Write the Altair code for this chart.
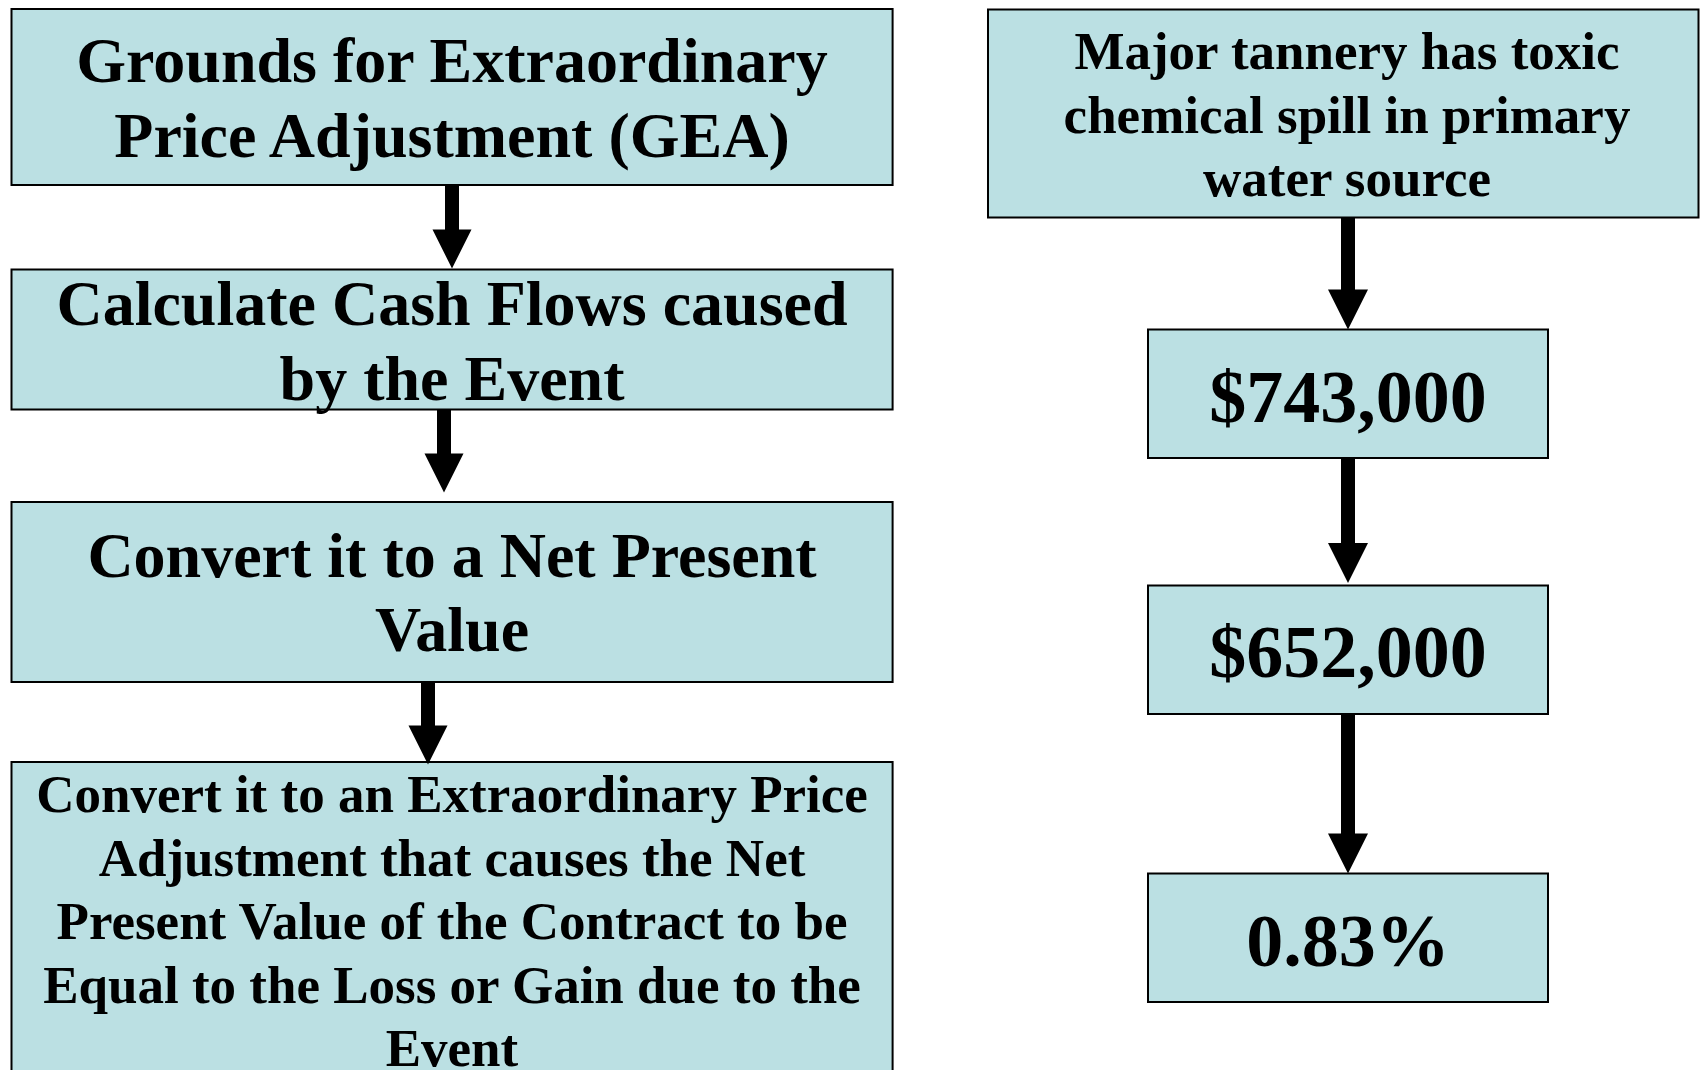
import altair as alt
import pandas as pd

# ---- content ----
left_steps = [
    "Grounds for Extraordinary\nPrice Adjustment (GEA)",
    "Calculate Cash Flows caused\nby the Event",
    "Convert it to a Net Present\nValue",
    "Convert it to an Extraordinary Price\nAdjustment that causes the Net\nPresent Value of the Contract to be\nEqual to the Loss or Gain due to the\nEvent",
]
right_steps = [
    "Major tannery has toxic\nchemical spill in primary\nwater source",
    "$743,000",
    "$652,000",
    "0.83%",
]

# ---- layout (page pixel geometry) ----
box_x1 = [11.5, 11.5, 11.5, 11.5, 988, 1148, 1148, 1148]
box_x2 = [892.6, 892.6, 892.6, 892.6, 1698.5, 1548, 1548, 1548]
box_y1 = [9, 269.5, 502, 762, 9.6, 329.5, 585.6, 873.5]
box_y2 = [185, 409.5, 682, 1110, 217.6, 458, 714, 1002]
font_px = [64, 64, 64, 53, 53, 74, 74, 74]
first_base = [81.7, 325, 577, 812, 68.9, 421.8, 677.3, 965.5]
line_gap = [75, 75, 74, 63.5, 63.7, 0, 0, 0]
text_cx = [452, 452, 452, 452, 1347, 1348, 1348, 1348]

arrow_x = [452, 444, 428, 1348, 1348, 1348]
arrow_top = [185, 409.5, 682, 217.6, 458, 714]
arrow_head = [249, 473, 745, 309.5, 563, 853.5]
head_px = [39, 39, 39, 40, 40, 40]

labels = left_steps + right_steps

boxes = pd.DataFrame({"x1": box_x1, "x2": box_x2, "y1": box_y1, "y2": box_y2})

rows = []
for i, lab in enumerate(labels):
    for j, ln in enumerate(lab.split("\n")):
        rows.append({"x": text_cx[i], "y": first_base[i] + j * line_gap[i], "t": ln, "fs": font_px[i]})
texts = pd.DataFrame(rows)

arrows = pd.DataFrame({
    "x": arrow_x, "y1": arrow_top,
    "y2": [h - s / 2 + 2 for h, s in zip(arrow_head, head_px)],
    "hy": arrow_head, "hs": [s * s for s in head_px],
})

W, H = 1692, 1062
xs = alt.Scale(domain=[8, 8 + W], nice=False, zero=False)
ys = alt.Scale(domain=[8, 8 + H], nice=False, zero=False, reverse=True)

rects = alt.Chart(boxes).mark_rect(
    fill="#BBE0E3", stroke="black", strokeWidth=2, clip=True
).encode(
    x=alt.X("x1:Q", scale=xs, axis=None),
    x2="x2:Q",
    y=alt.Y("y1:Q", scale=ys, axis=None),
    y2="y2:Q",
)

shafts = alt.Chart(arrows).mark_rule(
    color="black", strokeWidth=14, strokeCap="butt"
).encode(
    x=alt.X("x:Q", scale=xs, axis=None),
    y=alt.Y("y1:Q", scale=ys, axis=None),
    y2="y2:Q",
)

heads = alt.Chart(arrows).mark_point(
    shape="M-1,-1L1,-1L0,1Z", filled=True, color="black", opacity=1, strokeWidth=0
).encode(
    x=alt.X("x:Q", scale=xs, axis=None),
    y=alt.Y("hy:Q", scale=ys, axis=None),
    size=alt.Size("hs:Q", scale=None, legend=None),
)

words = alt.Chart(texts).mark_text(
    font="Liberation Serif", fontWeight="bold", color="black",
    align="center", baseline="alphabetic"
).encode(
    x=alt.X("x:Q", scale=xs, axis=None),
    y=alt.Y("y:Q", scale=ys, axis=None),
    text="t:N",
    size=alt.Size("fs:Q", scale=None, legend=None),
)

chart = alt.layer(rects, shafts, heads, words).properties(
    width=W, height=H, padding=0, autosize=alt.AutoSizeParams(type="none"),
    background="white",
).configure_view(stroke=None)

chart.save("out.html", embed_options={"renderer": "svg", "actions": False})
